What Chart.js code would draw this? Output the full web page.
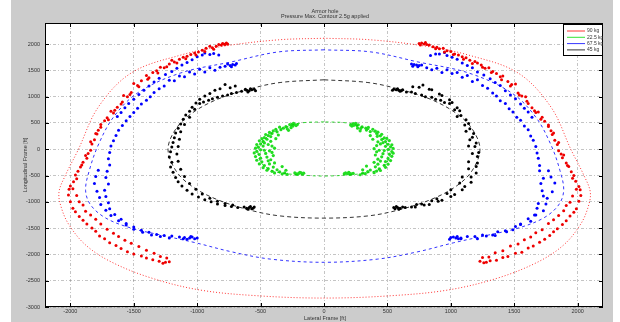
<!DOCTYPE html>
<html>
<head>
<meta charset="utf-8">
<script src="https://cdn.jsdelivr.net/npm/chart.js@4.4.0/dist/chart.umd.min.js"></script>
<style>
html, body { margin: 0; padding: 0; background: #fff; }
canvas { display: block; }
</style>
</head>
<body>
<canvas id="plot" width="620" height="322"></canvas>
<script>
// tick labels and texts
const xTicks = [-2000, -1500, -1000, -500, 0, 500, 1000, 1500, 2000];
const yTicks = [-3000, -2500, -2000, -1500, -1000, -500, 0, 500, 1000, 1500, 2000];
const titleLines = ['Armor hole', 'Pressure Max. Contour 2.5g applied'];
const xTitle = 'Lateral Frame [ft]';
const yTitle = 'Longitudinal Frame [ft]';
const legendLabels = ['90 kg', '22.5 kg', '67.5 kg', '45 kg'];
const legendColors = ['#ff0000', '#00dd00', '#0000ff', '#000000'];

// contour lines, [x, y]
const redRing = [[0,2110],[-360,2080],[-790,1960],[-1130,1790],[-1520,1450],[-1780,800],[-1940,-20],[-2040,-500],
  [-2090,-820],[-2070,-1120],[-2010,-1440],[-1880,-1820],[-1680,-2140],[-1360,-2450],[-970,-2680],[-500,-2790],
  [0,-2830],[500,-2790],[970,-2680],[1370,-2450],[1690,-2140],[1890,-1820],[2020,-1440],[2080,-1120],[2100,-820],
  [2050,-500],[1950,-20],[1790,800],[1530,1450],[1140,1790],[800,1960],[370,2080],[0,2110]];
const blueRing = [[0,1890],[-360,1850],[-730,1660],[-1130,1450],[-1470,1070],[-1660,610],[-1780,80],[-1850,-400],
  [-1880,-780],[-1840,-1060],[-1720,-1310],[-1520,-1500],[-1290,-1630],[-1010,-1780],[-730,-1950],[-420,-2090],
  [0,-2150],[420,-2090],[740,-1950],[1020,-1780],[1300,-1630],[1530,-1500],[1730,-1310],[1850,-1060],[1890,-780],
  [1860,-400],[1790,80],[1670,610],[1480,1070],[1140,1450],[740,1660],[370,1850],[0,1890]];
const blackRing = [[0,1320],[-340,1270],[-580,1150],[-850,940],[-1050,670],[-1170,380],[-1230,0],[-1170,-400],
  [-1050,-690],[-850,-950],[-580,-1160],[-340,-1270],[0,-1310],[340,-1270],[580,-1160],[850,-950],[1050,-690],
  [1170,-400],[1230,0],[1170,380],[1050,670],[850,940],[580,1150],[340,1270],[0,1320]];
const greenRing = [[0,520],[-180,500],[-300,420],[-420,290],[-500,80],[-520,-110],[-480,-300],[-380,-430],
  [-180,-490],[0,-510],[180,-490],[380,-430],[480,-300],[520,-110],[500,80],[420,290],[300,420],[180,500],[0,520]];

// scattered points
const redLeft = [[-800,2010],[-780,1990],[-770,2020],[-810,1980],[-790,2000],[-830,1990],[-760,2000],[-850,1960],
  [-880,1930],[-900,1960],[-930,1920],[-960,1880],[-990,1850],[-1020,1830],[-1050,1800],[-1080,1770],[-1110,1750],
  [-1140,1710],[-1180,1660],[-1200,1690],[-1220,1620],[-1260,1550],[-1290,1560],[-1320,1490],[-1350,1460],
  [-1380,1360],[-1400,1400],[-1440,1300],[-1470,1210],[-1500,1250],[-1520,1080],[-1550,1000],[-1580,1020],
  [-1600,860],[-1630,800],[-1660,690],[-1680,720],[-1700,560],[-1730,540],[-1760,420],[-1780,360],[-1790,290],
  [-1810,180],[-1830,100],[-1840,-20],[-1860,-80],[-1870,-170],[-1900,-250],[-1920,-340],[-1940,-420],
  [-1960,-490],[-1975,-620],[-2000,-700],[-2010,-760],
  [-870,1900],[-940,1860],[-1010,1790],[-1090,1720],[-1160,1640],[-1240,1570],[-1310,1450],[-1390,1330],
  [-1460,1190],[-1530,1040],[-1590,900],[-1650,740],[-1710,600],[-1760,470],[-1800,300],[-1840,140],
  [-1880,-120],[-1910,-300],[-1950,-560],[-1980,-750],
  [-2015,-870],[-2000,-1000],[-1980,-1120],[-1960,-1190],[-1930,-1280],[-1900,-1350],[-1870,-1420],[-1830,-1500],
  [-1800,-1560],[-1770,-1650],[-1730,-1700],[-1690,-1780],[-1640,-1830],[-1600,-1890],[-1550,-1950],[-1500,-1990],
  [-1440,-2030],[-1400,-2070],[-1350,-2100],[-1300,-2130],[-1250,-2150],[-1220,-2140],[-1270,-2170],
  [-1950,-880],[-1930,-1000],[-1900,-1060],[-1880,-1180],[-1840,-1250],[-1800,-1330],[-1760,-1420],[-1710,-1520],
  [-1660,-1600],[-1620,-1660],[-1570,-1730],[-1520,-1790],[-1460,-1850],[-1400,-1920],[-1340,-1980],[-1290,-2040],
  [-1240,-2070]];
const redRight = [[790,2000],[770,2020],[810,1990],[760,1980],[800,2030],[830,1980],[750,2010],[860,1950],
  [890,1940],[910,1910],[940,1920],[970,1870],[1000,1860],[1030,1810],[1060,1790],[1090,1760],[1120,1740],
  [1150,1690],[1190,1670],[1210,1640],[1240,1600],[1270,1540],[1300,1550],[1330,1480],[1360,1440],[1390,1380],
  [1410,1390],[1450,1290],[1480,1230],[1510,1240],[1530,1070],[1560,1010],[1590,1000],[1610,870],[1640,790],
  [1670,700],[1690,710],[1710,570],[1740,530],[1770,430],[1790,350],[1800,280],[1820,170],[1840,90],[1850,-30],
  [1870,-90],[1880,-160],[1910,-260],[1930,-330],[1950,-430],[1970,-500],[1985,-610],[2010,-710],[2020,-770],
  [880,1910],[950,1850],[1020,1800],[1100,1710],[1170,1630],[1250,1560],[1320,1460],[1400,1320],[1470,1200],
  [1540,1030],[1600,910],[1660,730],[1720,610],[1770,460],[1810,310],[1850,130],[1890,-110],[1920,-310],
  [1960,-550],[1990,-760],
  [2025,-880],[2010,-990],[1990,-1130],[1970,-1200],[1940,-1270],[1910,-1360],[1880,-1430],[1840,-1510],
  [1810,-1570],[1780,-1640],[1740,-1710],[1700,-1770],[1650,-1840],[1610,-1880],[1560,-1960],[1510,-1980],
  [1450,-2040],[1410,-2060],[1360,-2110],[1310,-2120],[1260,-2160],[1230,-2130],[1280,-2150],
  [1960,-890],[1940,-1010],[1910,-1070],[1890,-1170],[1850,-1260],[1810,-1340],[1770,-1410],[1720,-1530],
  [1670,-1590],[1630,-1670],[1580,-1720],[1530,-1800],[1470,-1840],[1410,-1930],[1350,-1970],[1300,-2050],
  [1250,-2060]];
const blueLeft = [[-940,1830],[-900,1800],[-870,1820],[-830,1790],[-960,1790],[-1000,1760],[-1040,1700],
  [-1080,1650],[-1120,1600],[-1160,1540],[-1200,1480],[-1250,1420],[-1300,1350],[-1340,1280],[-1380,1200],
  [-1420,1120],[-1460,1040],[-1500,950],[-1540,870],[-1570,790],[-1600,700],[-1630,620],
  [-720,1610],[-740,1590],[-700,1600],[-760,1620],[-730,1570],[-780,1580],[-690,1630],
  [-820,1560],[-860,1500],[-900,1550],[-940,1470],[-980,1520],[-1020,1430],[-1060,1470],[-1100,1380],
  [-1140,1390],[-1180,1300],[-1220,1310],[-1260,1200],[-1300,1150],[-1340,1080],[-1370,1000],[-1400,930],
  [-1440,860],[-1470,780],[-1500,700],[-1530,620],[-1560,540],[-1590,450],[-1620,360],[-1640,260],[-1660,160],
  [-1680,60],[-1690,-60],[-1700,-180],[-1690,-300],[-1710,-420],[-1720,-540],[-1700,-660],[-1730,-780],
  [-1720,-900],[-1700,-1020],[-1690,-1130],[-1650,-1240],[-1600,-1330],[-1560,-1410],[-1500,-1480],
  [-1440,-1540],[-1380,-1580],[-1320,-1620],[-1260,-1640],[-1200,-1650],[-1140,-1670],[-1100,-1680],
  [-1780,-400],[-1800,-520],[-1810,-650],[-1790,-800],[-1770,-920],[-1760,-1050],[-1720,-1160],[-1680,-1260],
  [-1620,-1360],[-1560,-1440],[-1500,-1520],[-1430,-1580],[-1360,-1630],[-1290,-1660],[-1220,-1690],
  [-1060,-1690],[-1040,-1670],[-1020,-1700],[-1080,-1710],[-1050,-1660],[-1000,-1690],[-1110,-1700]];
const blueRight = [[950,1840],[910,1810],[880,1810],[840,1780],[970,1780],[1010,1750],[1050,1710],[1090,1640],
  [1130,1590],[1170,1550],[1210,1470],[1260,1410],[1310,1340],[1350,1270],[1390,1210],[1430,1110],[1470,1030],
  [1510,960],[1550,860],[1580,780],[1610,710],[1640,610],
  [730,1600],[710,1610],[750,1590],[690,1620],[740,1570],[770,1600],[700,1580],
  [810,1550],[850,1510],[890,1540],[930,1460],[970,1510],[1010,1440],[1050,1460],[1090,1370],[1130,1400],
  [1170,1290],[1210,1320],[1250,1210],[1290,1160],[1330,1070],[1360,1010],[1390,920],[1430,870],[1460,770],
  [1490,710],[1520,610],[1550,550],[1580,440],[1610,370],[1630,250],[1650,170],[1670,50],[1680,-70],[1690,-170],
  [1700,-310],[1700,-410],[1730,-550],[1710,-650],[1720,-790],[1730,-890],[1690,-1030],[1680,-1120],[1660,-1250],
  [1610,-1320],[1550,-1420],[1510,-1470],[1430,-1550],[1370,-1570],[1330,-1630],[1250,-1630],[1190,-1660],
  [1130,-1660],[1080,-1690],
  [1770,-410],[1790,-530],[1820,-640],[1800,-810],[1760,-930],[1750,-1040],[1730,-1170],[1670,-1250],
  [1630,-1370],[1550,-1430],[1490,-1530],[1440,-1570],[1350,-1640],[1280,-1650],[1210,-1700],
  [1040,-1690],[1020,-1670],[1060,-1700],[990,-1710],[1050,-1660],[1000,-1680],[1080,-1700]];
const blackLeft = [[-570,1130],[-590,1110],[-550,1140],[-610,1120],[-580,1150],[-600,1090],[-540,1110],[-620,1140],
  [-650,1100],[-690,1080],[-730,1060],[-760,1030],[-800,1010],[-840,990],[-880,960],[-910,930],[-950,900],[-980,870],
  [-700,1200],[-740,1170],[-780,1230],[-820,1150],[-860,1120],[-900,1060],[-940,1010],[-980,950],[-1010,880],
  [-1040,800],[-1060,720],[-1090,650],[-1110,570],[-1130,480],[-1150,400],[-1170,310],[-1180,220],[-1190,130],
  [-1200,40],[-1210,-50],[-1220,-150],[-1200,-250],[-1210,-340],[-1190,-440],[-1170,-540],[-1150,-620],
  [-1120,-700],[-1080,-780],[-1040,-850],[-990,-910],[-940,-960],[-890,-1000],[-840,-1040],[-780,-1070],
  [-730,-1090],[-680,-1110],
  [-1020,760],[-1060,610],[-1100,470],[-1130,330],[-1140,190],[-1150,50],[-1160,-90],[-1150,-230],[-1130,-380],
  [-1100,-520],[-1060,-650],[-1010,-760],[-960,-850],[-900,-930],[-840,-990],[-780,-1030],[-720,-1060],
  [-590,-1110],[-570,-1130],[-610,-1120],[-550,-1100],[-600,-1140],[-560,-1120],[-630,-1100],[-580,-1090]];
const blackRight = [[570,1130],[590,1120],[550,1140],[610,1110],[580,1150],[600,1100],[540,1120],[620,1130],
  [650,1090],[690,1090],[720,1060],[770,1030],[800,1000],[850,990],[880,950],[920,930],[950,890],[990,870],
  [700,1190],[750,1180],[780,1220],[830,1140],[850,1130],[910,1050],[930,1020],[990,940],[1010,890],[1050,790],
  [1070,730],[1080,640],[1120,560],[1140,490],[1150,390],[1180,300],[1170,230],[1200,120],[1190,50],[1220,-60],
  [1210,-140],[1210,-260],[1200,-330],[1200,-450],[1160,-530],[1160,-630],[1110,-710],[1090,-770],[1030,-860],
  [1000,-900],[930,-970],[900,-990],[830,-1050],[790,-1060],[720,-1100],[690,-1100],
  [1030,750],[1050,620],[1110,460],[1120,340],[1150,180],[1140,60],[1170,-80],[1140,-240],[1140,-370],
  [1090,-530],[1070,-640],[1000,-770],[970,-840],[890,-940],[850,-980],[770,-1040],[730,-1050],
  [580,-1110],[560,-1130],[600,-1120],[620,-1100],[590,-1140],[550,-1110],[640,-1110],[570,-1090]];
const greenLeft = [[-230,470],[-250,480],[-220,450],[-260,455],[-240,490],[-270,470],[-210,470],[-245,440],
  [-300,430],[-320,400],[-290,390],[-350,420],[-340,370],[-380,380],[-370,330],[-400,350],[-410,300],[-430,320],
  [-440,260],[-420,240],[-460,280],[-470,220],[-450,190],[-490,200],[-480,150],[-510,160],[-500,100],[-470,120],
  [-530,90],[-520,40],[-480,60],[-540,20],[-500,-10],[-530,-40],[-470,-20],[-550,-70],[-510,-100],[-460,-80],
  [-540,-140],[-500,-170],[-450,-150],[-530,-210],[-490,-240],[-440,-220],[-510,-280],[-470,-310],[-430,-280],
  [-480,-350],[-440,-370],[-400,-340],[-450,-400],[-410,-420],[-370,-390],[-390,-450],[-350,-430],[-330,-470],
  [-310,-450],[-290,-480],
  [-420,150],[-410,60],[-430,-30],[-400,-120],[-420,-200],[-390,-260],[-440,90],[-380,200],[-360,270],
  [-330,-330],[-300,-400],[-280,360],[-260,410],[-410,-60],[-390,20],
  [-200,-460],[-180,-450],[-220,-470],[-170,-470],[-190,-440],[-230,-450],[-160,-455],[-210,-480]];
const greenRight = [[240,470],[230,485],[260,450],[210,460],[250,490],[270,465],[220,440],[235,455],
  [300,425],[330,400],[290,395],[350,415],[335,365],[385,380],[365,335],[405,345],[415,300],[425,325],[445,255],
  [420,245],[455,285],[475,215],[455,185],[495,205],[485,145],[515,165],[505,95],[465,125],[535,85],[525,45],
  [485,55],[545,15],[505,-5],[535,-45],[475,-25],[545,-75],[515,-95],[465,-85],[535,-135],[505,-175],[455,-145],
  [525,-215],[485,-235],[445,-225],[505,-285],[475,-305],[425,-285],[485,-345],[435,-375],[405,-335],[445,-405],
  [415,-415],[365,-395],[395,-445],[345,-425],[325,-465],[305,-455],[285,-485],
  [425,140],[415,70],[435,-20],[405,-110],[425,-190],[395,-250],[445,100],[385,190],[365,260],
  [335,-320],[305,-390],[285,350],[265,400],[415,-50],[395,10],
  [200,-455],[185,-465],[215,-470],[170,-450],[195,-440],[230,-460],[160,-465],[205,-480]];

function pts(list) {
    return list.map(p => ({x: p[0], y: p[1]}));
}

function ring(list, color, dash) {
    return {
        data: pts(list),
        showLine: true,
        borderColor: color,
        borderWidth: 0.8,
        borderDash: dash,
        tension: 0.35,
        pointRadius: 0,
        fill: false,
    };
}

function cloud(list, color, r) {
    return {
        data: pts(list),
        showLine: false,
        backgroundColor: color,
        borderColor: color,
        borderWidth: 0,
        pointRadius: r,
    };
}

const frame = {
    id: 'frame',
    beforeDraw(chart) {
        const {ctx, chartArea: a} = chart;
        ctx.save();
        ctx.fillStyle = '#ffffff';
        ctx.fillRect(0, 0, chart.width, chart.height);
        ctx.fillStyle = '#cccccc';
        ctx.fillRect(11, 0, 602, chart.height);
        ctx.fillStyle = '#ffffff';
        ctx.fillRect(a.left, a.top, a.right - a.left, a.bottom - a.top);
        ctx.restore();
    },
    afterDraw(chart) {
        const {ctx, chartArea: a, scales} = chart;
        ctx.save();
        ctx.strokeStyle = '#000';
        ctx.lineWidth = 1;
        ctx.strokeRect(a.left + 0.5, a.top + 0.5, a.right - a.left - 1, a.bottom - a.top - 1);
        // inward ticks, like matlab
        ctx.beginPath();
        xTicks.forEach(v => {
            const px = Math.round(scales.x.getPixelForValue(v)) + 0.5;
            ctx.moveTo(px, a.bottom); ctx.lineTo(px, a.bottom - 4);
            ctx.moveTo(px, a.top); ctx.lineTo(px, a.top + 4);
        });
        yTicks.forEach(v => {
            const py = Math.round(scales.y.getPixelForValue(v)) + 0.5;
            ctx.moveTo(a.left, py); ctx.lineTo(a.left + 4, py);
            ctx.moveTo(a.right, py); ctx.lineTo(a.right - 4, py);
        });
        ctx.stroke();

        ctx.fillStyle = '#333';
        ctx.textAlign = 'center';
        ctx.textBaseline = 'middle';
        ctx.font = '5.5px "Liberation Sans"';
        ctx.fillText(titleLines[0], 325, 11);
        ctx.fillText(titleLines[1], 325, 16.5);
        ctx.fillText(xTitle, 325, 318);
        ctx.save();
        ctx.translate(25, 165);
        ctx.rotate(-Math.PI / 2);
        ctx.fillText(yTitle, 0, 0);
        ctx.restore();

        // legend box
        ctx.fillStyle = '#fff';
        ctx.fillRect(563, 24, 39, 31);
        ctx.strokeStyle = '#000';
        ctx.strokeRect(563.5, 24.5, 39, 31);
        ctx.font = '5px "Liberation Sans"';
        ctx.textAlign = 'left';
        legendLabels.forEach((t, i) => {
            const y = 31 + i * 6.3;
            ctx.strokeStyle = legendColors[i];
            ctx.lineWidth = 0.8;
            ctx.beginPath();
            ctx.moveTo(567, y); ctx.lineTo(585, y);
            ctx.stroke();
            ctx.fillStyle = '#333';
            ctx.fillText(t, 587, y);
        });
        ctx.restore();
    }
};

const gridOpts = {
    color: 'rgba(120,120,120,0.55)',
    lineWidth: 0.8,
    drawTicks: false,
    borderDash: [3, 2, 1, 2],
};

new Chart(document.getElementById('plot'), {
    type: 'scatter',
    data: {
        datasets: [
            ring(redRing, '#ff0000', [1, 2]),
            ring(blueRing, '#0000ff', [3, 3]),
            ring(blackRing, '#000000', [4, 3]),
            ring(greenRing, '#00cc00', [3, 3]),
            cloud(redLeft, '#ee0000', 1.5),
            cloud(redRight, '#ee0000', 1.5),
            cloud(blueLeft, '#0000ff', 1.5),
            cloud(blueRight, '#0000ff', 1.5),
            cloud(blackLeft, '#000000', 1.5),
            cloud(blackRight, '#000000', 1.5),
            cloud(greenLeft, '#22dd22', 1.6),
            cloud(greenRight, '#22dd22', 1.6),
        ]
    },
    options: {
        responsive: false,
        animation: false,
        devicePixelRatio: 1,
        layout: {padding: {top: 23, right: 17, bottom: 0, left: 0}},
        plugins: {legend: {display: false}, title: {display: false}, tooltip: {enabled: false}},
        scales: {
            x: {
                min: -2200, max: 2200,
                afterBuildTicks: s => { s.ticks = xTicks.map(v => ({value: v})); },
                afterFit: s => { s.height = 15; },
                grid: gridOpts,
                border: {display: false, dash: [3, 2, 1, 2]},
                ticks: {padding: 1, maxRotation: 0, autoSkip: false, color: '#333',
                        callback: v => String(v),
                        font: {family: 'Liberation Sans', size: 5.5}},
            },
            y: {
                min: -3000, max: 2400,
                afterBuildTicks: s => { s.ticks = yTicks.map(v => ({value: v})); },
                afterFit: s => { s.width = 45; },
                grid: gridOpts,
                border: {display: false, dash: [3, 2, 1, 2]},
                ticks: {padding: 5, autoSkip: false, color: '#333',
                        callback: v => String(v),
                        font: {family: 'Liberation Sans', size: 5.5}},
            }
        }
    },
    plugins: [frame]
});
</script>
</body>
</html>
